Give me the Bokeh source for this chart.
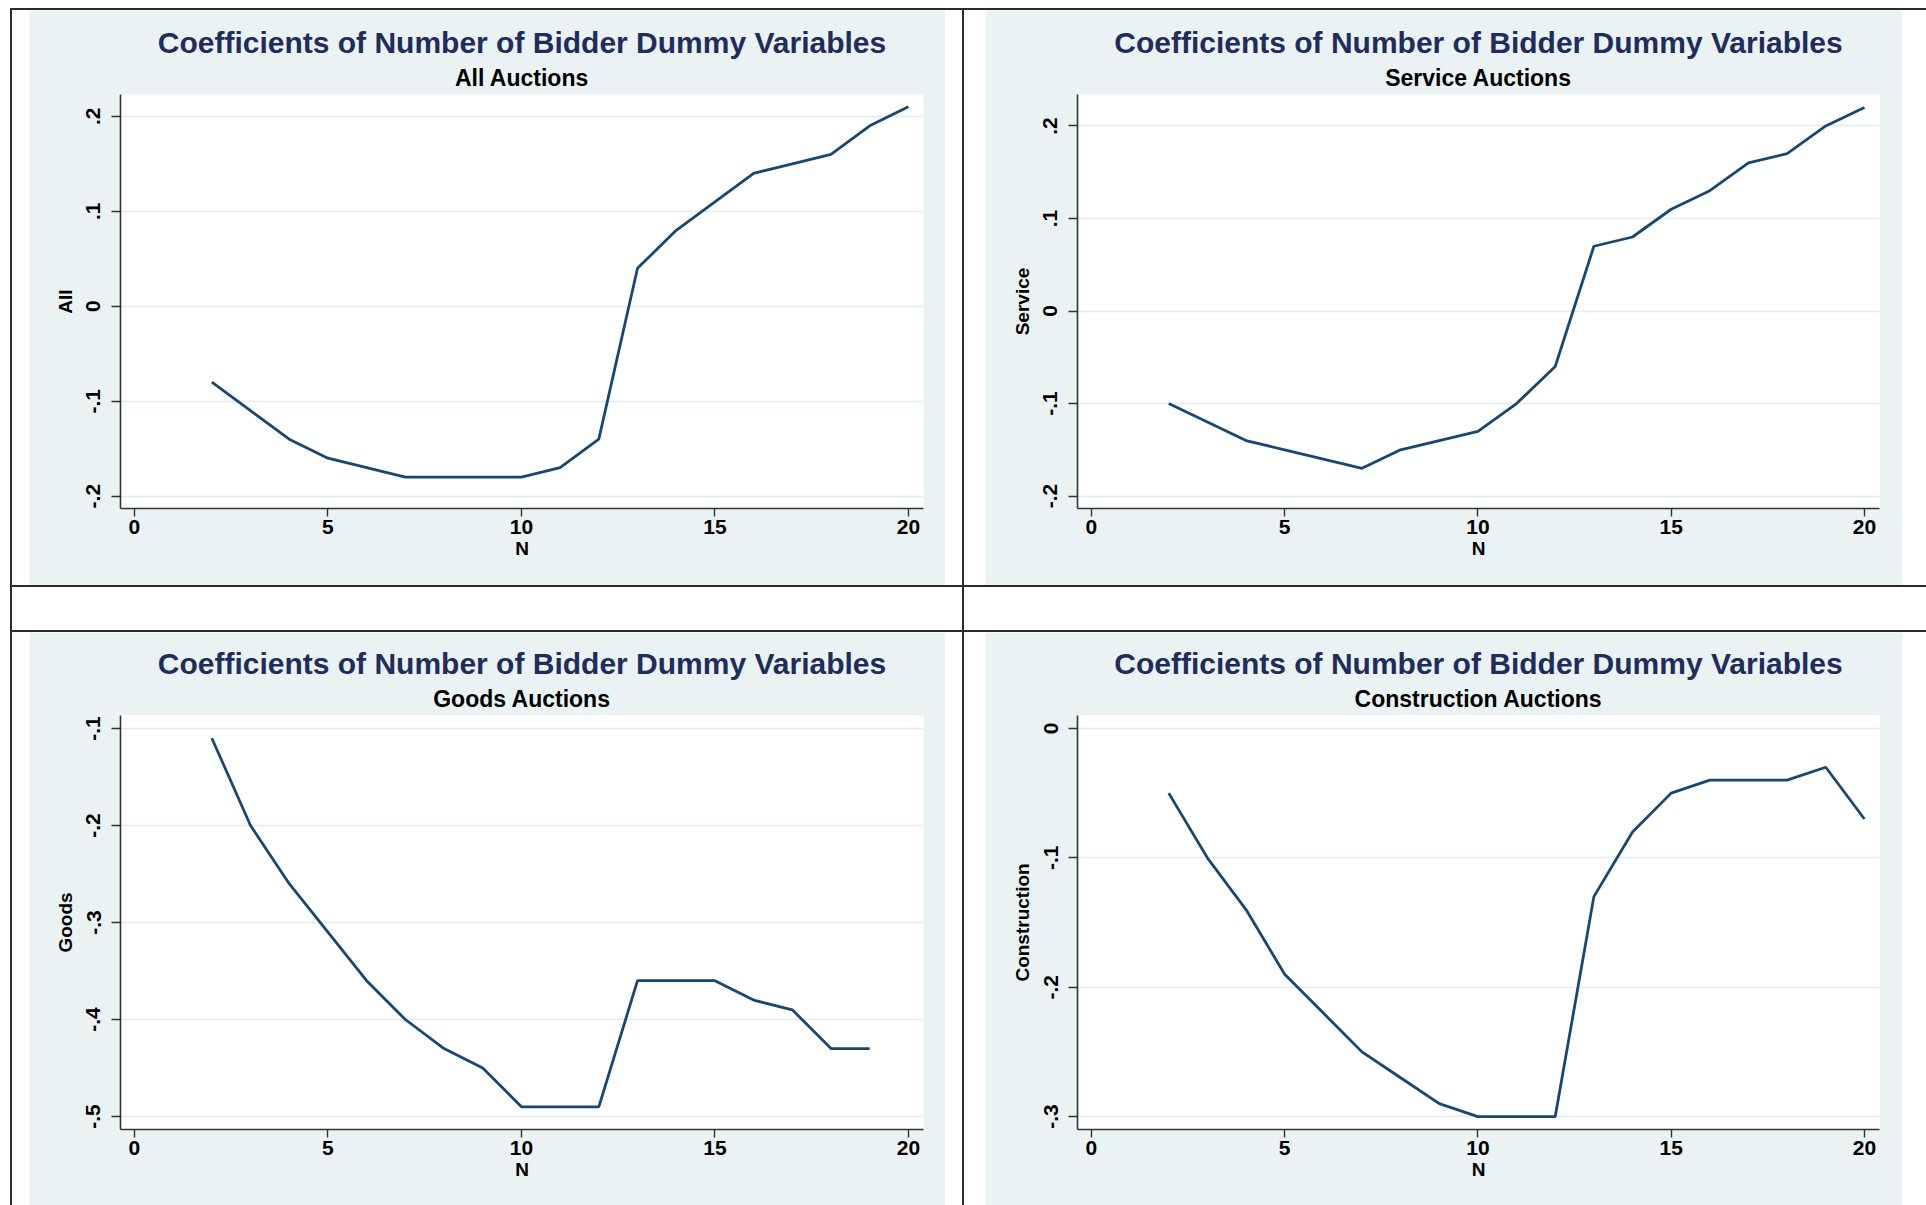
from bokeh.plotting import figure
from bokeh.layouts import row, column
from bokeh.models import Range1d, FixedTicker, Title, Spacer
from bokeh.embed import file_html
from bokeh.resources import INLINE

# ---------------- data ----------------
main_title = "Coefficients of Number of Bidder Dummy Variables"
x_ticks = [0, 5, 10, 15, 20]
x_label = "N"

n_all = [2, 3, 4, 5, 6, 7, 8, 9, 10, 11, 12, 13, 14, 15, 16, 17, 18, 19, 20]
all_coef = [-0.08, -0.11, -0.14, -0.16, -0.17, -0.18, -0.18, -0.18, -0.18, -0.17,
            -0.14, 0.04, 0.08, 0.11, 0.14, 0.15, 0.16, 0.19, 0.21]
all_yticks = [-0.2, -0.1, 0.0, 0.1, 0.2]
all_ylabels = ["-.2", "-.1", "0", ".1", ".2"]

n_service = [2, 3, 4, 5, 6, 7, 8, 9, 10, 11, 12, 13, 14, 15, 16, 17, 18, 19, 20]
service_coef = [-0.10, -0.12, -0.14, -0.15, -0.16, -0.17, -0.15, -0.14, -0.13, -0.10,
                -0.06, 0.07, 0.08, 0.11, 0.13, 0.16, 0.17, 0.20, 0.22]
service_yticks = [-0.2, -0.1, 0.0, 0.1, 0.2]
service_ylabels = ["-.2", "-.1", "0", ".1", ".2"]

n_goods = [2, 3, 4, 5, 6, 7, 8, 9, 10, 11, 12, 13, 14, 15, 16, 17, 18, 19]
goods_coef = [-0.11, -0.20, -0.26, -0.31, -0.36, -0.40, -0.43, -0.45, -0.49, -0.49,
              -0.49, -0.36, -0.36, -0.36, -0.38, -0.39, -0.43, -0.43]
goods_yticks = [-0.5, -0.4, -0.3, -0.2, -0.1]
goods_ylabels = ["-.5", "-.4", "-.3", "-.2", "-.1"]

n_construction = [2, 3, 4, 5, 6, 7, 8, 9, 10, 11, 12, 13, 14, 15, 16, 17, 18, 19, 20]
construction_coef = [-0.05, -0.10, -0.14, -0.19, -0.22, -0.25, -0.27, -0.29, -0.30, -0.30,
                     -0.30, -0.13, -0.08, -0.05, -0.04, -0.04, -0.04, -0.03, -0.07]
construction_yticks = [-0.3, -0.2, -0.1, 0.0]
construction_ylabels = ["-.3", "-.2", "-.1", "0"]

# ---------------- style ----------------
FONT = "Liberation Sans"
BG = "#EAF2F3"
LINE = "#1A476F"
TITLE_COLOR = "#1E2D5C"
AXIS = "#333333"
BORDER = "#2B2B2B"


def make_panel(xs, ys, yticks, ylabels, y_rng, y_label, subtitle,
               w, h, bl, br, bt, bb):
    p = figure(width=w, height=h, title=None, toolbar_location=None,
               output_backend="svg",
               x_range=Range1d(-0.36, 20.39), y_range=Range1d(*y_rng),
               min_border_left=bl, min_border_right=br,
               min_border_top=bt, min_border_bottom=bb)
    p.background_fill_color = "white"
    p.border_fill_color = BG
    p.outline_line_color = None

    p.line(xs, ys, line_color=LINE, line_width=2.8)

    p.add_layout(Title(text=subtitle, align="center", text_font=FONT,
                       text_font_size="23px", text_font_style="bold",
                       text_color="black", standoff=7), "above")
    p.add_layout(Title(text=main_title, align="center", text_font=FONT,
                       text_font_size="30px", text_font_style="bold",
                       text_color=TITLE_COLOR, standoff=2), "above")

    xa = p.xaxis[0]
    xa.ticker = FixedTicker(ticks=x_ticks)
    xa.axis_label = x_label
    ya = p.yaxis[0]
    ya.ticker = FixedTicker(ticks=yticks)
    ya.major_label_overrides = {t: l for t, l in zip(yticks, ylabels)}
    ya.axis_label = y_label
    ya.major_label_orientation = "vertical"

    for ax in (xa, ya):
        ax.minor_tick_line_color = None
        ax.major_tick_in = 0
        ax.axis_line_color = AXIS
        ax.axis_line_width = 1.6
        ax.major_tick_line_color = AXIS
        ax.major_tick_line_width = 1.4
        ax.major_label_text_font = FONT
        ax.major_label_text_font_size = "21px"
        ax.major_label_text_font_style = "bold"
        ax.major_label_text_color = "black"
        ax.axis_label_text_font = FONT
        ax.axis_label_text_font_size = "19px"
        ax.axis_label_text_font_style = "bold"
        ax.axis_label_text_color = "black"
    xa.major_tick_out = 8
    xa.major_label_standoff = 3
    xa.axis_label_standoff = 1
    ya.major_tick_out = 9
    ya.major_label_standoff = 11
    ya.axis_label_standoff = 8

    p.xgrid.visible = False
    p.ygrid.grid_line_color = "#E2EBEF"
    p.ygrid.grid_line_width = 1.5
    return p


p_all = make_panel(n_all, all_coef, all_yticks, all_ylabels, (-0.213, 0.223),
                   "All", "All Auctions", 916, 575, 91, 22, 84, 77)
p_service = make_panel(n_service, service_coef, service_yticks, service_ylabels,
                       (-0.2134, 0.234), "Service", "Service Auctions",
                       917, 575, 92, 23, 84, 77)
p_goods = make_panel(n_goods, goods_coef, goods_yticks, goods_ylabels,
                     (-0.5134, -0.0866), "Goods", "Goods Auctions",
                     916, 573, 91, 22, 83, 76)
p_construction = make_panel(n_construction, construction_coef, construction_yticks,
                            construction_ylabels, (-0.31, 0.01), "Construction",
                            "Construction Auctions", 917, 573, 92, 23, 83, 76)


def sp(w, h, color=None):
    if color is None:
        return Spacer(width=w, height=h)
    return Spacer(width=w, height=h, styles={"background-color": color})


H = 1205
RW = 962
left_col = column(
    sp(950, 8),
    sp(950, 2, BORDER),
    row(sp(17, 575), p_all, sp(17, 575)),
    sp(950, 2, BORDER),
    sp(950, 43),
    sp(950, 2, BORDER),
    row(sp(17, 573), p_goods, sp(17, 573)),
)
right_col = column(
    sp(RW, 8),
    sp(RW, 2, BORDER),
    row(sp(21, 575), p_service, sp(RW - 938, 575)),
    sp(RW, 2, BORDER),
    sp(RW, 43),
    sp(RW, 2, BORDER),
    row(sp(21, 573), p_construction, sp(RW - 938, 573)),
)
left_border = column(sp(2, 8), sp(2, H - 8, BORDER))
mid_border = column(sp(2, 8), sp(2, H - 8, BORDER))
root = row(sp(10, H), left_border, left_col, mid_border, right_col)

open("out.html", "w").write(file_html(root, INLINE))
